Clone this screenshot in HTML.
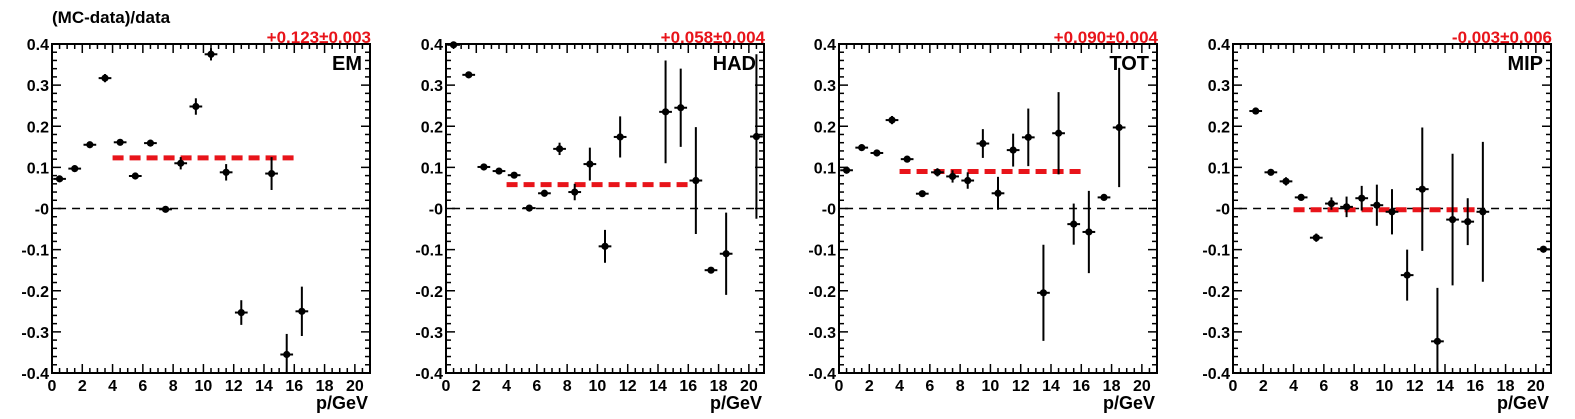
<!DOCTYPE html>
<html><head><meta charset="utf-8">
<style>
html,body{margin:0;padding:0;background:#fff;}
svg{display:block;font-family:"Liberation Sans",Arial,sans-serif;font-weight:bold;}
</style></head>
<body>
<svg id="chart" width="1575" height="419" viewBox="0 0 1575 419" xmlns="http://www.w3.org/2000/svg">
<text x="52" y="23" font-size="17">(MC-data)/data</text>
</svg>
<script>
const panelLabels = ["EM","HAD","TOT","MIP"];
const fitTexts = ["+0.123\u00b10.003","+0.058\u00b10.004","+0.090\u00b10.004","-0.003\u00b10.006"];
const fitValues = [0.123, 0.058, 0.090, -0.003];
const yTicks = [0.4,0.3,0.2,0.1,0,-0.1,-0.2,-0.3,-0.4];
const yTickLabels = ["0.4","0.3","0.2","0.1","-0","-0.1","-0.2","-0.3","-0.4"];
const xTicks = [0,2,4,6,8,10,12,14,16,18,20];
const emX = [0.5,1.5,2.5,3.5,4.5,5.5,6.5,7.5,8.5,9.5,10.5,11.5,12.5,14.5,15.5,16.5];
const emY = [0.072,0.097,0.155,0.317,0.161,0.079,0.159,-0.002,0.11,0.248,0.375,0.088,-0.253,0.085,-0.355,-0.25];
const emE = [0.004,0.004,0.004,0.01,0.004,0.004,0.004,0.004,0.015,0.02,0.015,0.02,0.03,0.04,0.05,0.06];
const hadX = [0.5,1.5,2.5,3.5,4.5,5.5,6.5,7.5,8.5,9.5,10.5,11.5,14.5,15.5,16.5,17.5,18.5,20.5];
const hadY = [0.398,0.325,0.101,0.091,0.081,0.001,0.037,0.145,0.04,0.108,-0.092,0.174,0.235,0.245,0.068,-0.15,-0.11,0.175];
const hadE = [0.003,0.004,0.004,0.006,0.005,0.004,0.008,0.015,0.02,0.04,0.04,0.05,0.125,0.095,0.13,0.004,0.1,0.2];
const totX = [0.5,1.5,2.5,3.5,4.5,5.5,6.5,7.5,8.5,9.5,10.5,11.5,12.5,13.5,14.5,15.5,16.5,17.5,18.5];
const totY = [0.093,0.148,0.135,0.215,0.12,0.036,0.088,0.078,0.068,0.158,0.037,0.142,0.173,-0.205,0.183,-0.038,-0.057,0.027,0.197];
const totE = [0.004,0.004,0.004,0.01,0.004,0.004,0.01,0.015,0.02,0.035,0.04,0.04,0.07,0.117,0.1,0.05,0.1,0.004,0.145];
const mipX = [1.5,2.5,3.5,4.5,5.5,6.5,7.5,8.5,9.5,10.5,11.5,12.5,13.5,14.5,15.5,16.5,20.5];
const mipY = [0.237,0.088,0.066,0.027,-0.071,0.012,0.004,0.025,0.008,-0.008,-0.162,0.047,-0.323,-0.027,-0.032,-0.008,-0.099];
const mipE = [0.004,0.005,0.01,0.005,0.01,0.015,0.025,0.03,0.05,0.055,0.062,0.15,0.13,0.16,0.057,0.17,0.004];
const seriesX = [emX,hadX,totX,mipX];
const seriesY = [emY,hadY,totY,mipY];
const seriesE = [emE,hadE,totE,mipE];

const svg = document.getElementById('chart');
const NS = "http://www.w3.org/2000/svg";
const lefts = [52,446,839,1233];
const W = 318, TOP = 44, BOT = 373;
function mk(tag, attrs, parent){const e=document.createElementNS(NS,tag);for(const k in attrs)e.setAttribute(k,attrs[k]);(parent||svg).appendChild(e);return e;}

for(let p=0;p<4;p++){
  const L = lefts[p], R = L+W;
  const sx = v => L + v/21*W;
  const sy = v => TOP + (0.4 - v)/0.8*(BOT-TOP);
  const clampY = v => Math.max(TOP, Math.min(BOT, sy(v)));
  const g = mk('g',{});
  
  
  for(let i=0;i<=42;i++){
    const v=i*0.5, x=sx(v), len=(i%4===0)?9:5;
    const t1=mk('line',{x1:x,y1:BOT,x2:x,y2:BOT-len,stroke:'#000','stroke-width':1.5},g);
    
    
    const t2=mk('line',{x1:x,y1:TOP,x2:x,y2:TOP+len,stroke:'#000','stroke-width':1.5},g);
    
    
  }
  for(let i=0;i<=40;i++){
    const v=-0.4+i*0.02, y=sy(v), len=(i%5===0)?9:5;
    const t1=mk('line',{x1:L,y1:y,x2:L+len,y2:y,stroke:'#000','stroke-width':1.5},g);
    
    
    const t2=mk('line',{x1:R,y1:y,x2:R-len,y2:y,stroke:'#000','stroke-width':1.5},g);
    
    
  }
  yTicks.forEach((v,i)=>{
    const t=mk('text',{x:L-3,y:sy(v)+6,'font-size':16,'text-anchor':'end'},g);
    t.textContent=yTickLabels[i];
    
    
  });
  xTicks.forEach(v=>{
    const t=mk('text',{x:sx(v),y:BOT+18,'font-size':16,'text-anchor':'middle'},g);
    t.textContent=String(v);
    
    
  });
  const xt=mk('text',{x:R-2,y:409,'font-size':18,'text-anchor':'end'},g);
  xt.textContent='p/GeV';
  
  
  const z=mk('line',{x1:sx(0.4),y1:sy(0),x2:R,y2:sy(0),stroke:'#000','stroke-width':1.5,'stroke-dasharray':'8,6'},g);
  
  
  const f=mk('line',{x1:sx(4),y1:sy(fitValues[p]),x2:sx(16),y2:sy(fitValues[p]),stroke:'#e8141a','stroke-width':5,'stroke-dasharray':'11,6'},g);
  
  
  const xs=seriesX[p], ys=seriesY[p], es=seriesE[p];
  for(let i=0;i<xs.length;i++){
    const cx=sx(xs[i]), cy=sy(ys[i]);
    const pg=mk('g',{},g);
    
    
    mk('line',{x1:sx(xs[i]-0.42),y1:cy,x2:sx(xs[i]+0.42),y2:cy,stroke:'#000','stroke-width':2},pg);
    mk('line',{x1:cx,y1:clampY(ys[i]-es[i]),x2:cx,y2:clampY(ys[i]+es[i]),stroke:'#000','stroke-width':2},pg);
    mk('circle',{cx:cx,cy:cy,r:3.6,fill:'#000'},pg);
  }
  const fr=mk('rect',{x:L,y:TOP,width:W,height:BOT-TOP,fill:'none',stroke:'#000','stroke-width':2},g);
  
  
  const lab=mk('text',{x:R-8,y:70,'font-size':20,'text-anchor':'end'},g);
  lab.textContent=panelLabels[p];
  
  
  const ft=mk('text',{x:R+1,y:43,'font-size':17,'text-anchor':'end',fill:'#e8141a'},g);
  ft.textContent=fitTexts[p];
  
  
}
</script>
</body></html>
